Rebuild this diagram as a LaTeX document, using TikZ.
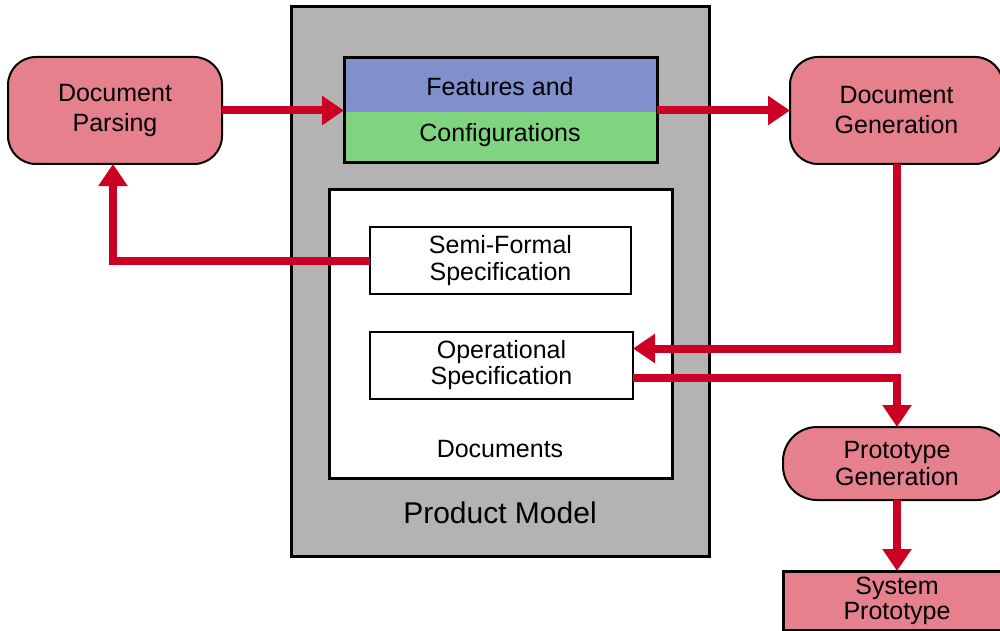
\documentclass[tikz,border=0pt]{standalone}
\usepackage{fontspec}
\setmainfont{Liberation Sans}
\usetikzlibrary{arrows.meta}
\definecolor{pinkbox}{RGB}{230,128,140}
\definecolor{featblue}{RGB}{128,144,204}
\definecolor{featgreen}{RGB}{128,212,128}
\definecolor{pmgray}{RGB}{179,179,179}
\definecolor{arrred}{RGB}{204,0,34}
\begin{document}
\begin{tikzpicture}[x=1pt,y=-1pt,
  every node/.style={inner sep=0pt, outer sep=0pt},
  txt/.style={font=\fontsize{25}{30}\selectfont, align=center},
  procbox/.style={draw=black, line width=2pt, fill=pinkbox, rectangle, anchor=north west, txt},
  specbox/.style={draw=black, line width=2.5pt, fill=white, rectangle, anchor=north west, txt},
  arr/.style={draw=arrred, line width=8pt, line join=miter, -{Triangle[length=22pt,width=28pt]}},
  link/.style={draw=arrred, line width=8pt, line join=miter}
]
\useasboundingbox (0,0) rectangle (1000,631);

% Product model
\node[draw=black, line width=3pt, fill=pmgray, anchor=north west, minimum width=418pt, minimum height=549pt] (pm) at (291,7) {};
\node[anchor=base, font=\fontsize{30}{36}\selectfont] (pmlabel) at (500,523) {Product Model};

% Features and configurations
\fill[featblue] (344,58) rectangle (657,112);
\fill[featgreen] (344,112) rectangle (657,163);
\node[draw=black, line width=3pt, anchor=north west, minimum width=313pt, minimum height=105pt] (feat) at (344,58) {};
\node[anchor=base, txt] (feattxtA) at (500,96) {Features and};
\node[anchor=base, txt] (feattxtB) at (500,142) {Configurations};

% Documents
\node[draw=black, line width=3pt, fill=white, anchor=north west, minimum width=343pt, minimum height=289pt] (docs) at (329,189) {};
\node[anchor=base, txt] (docslabel) at (500,457) {Documents};

\node[specbox, minimum width=261pt, minimum height=67pt, font=\fontsize{25}{27}\selectfont] (semi) at (370,227) {Semi-Formal\\Specification};
\node[specbox, minimum width=263pt, minimum height=67pt, font=\fontsize{25}{26}\selectfont] (op) at (370,332) {Operational\\Specification};

% Process boxes
\node[procbox, rounded corners=28pt, minimum width=214pt, minimum height=107pt] (dp) at (8,57) {Document\\Parsing};
\node[procbox, rounded corners=28pt, minimum width=213pt, minimum height=107pt] (dg) at (790,57) {Document\\Generation};
\node[procbox, rounded corners=34pt, minimum width=228pt, minimum height=73pt, font=\fontsize{25}{27}\selectfont] (pg) at (783,427) {Prototype\\Generation};
\node[procbox, line width=3pt, minimum width=228pt, minimum height=59pt, font=\fontsize{25}{25}\selectfont] (sp) at (783,571) {System\\Prototype};

% Connectors
\draw[arr] (dp.east) -- (feat.west);
\draw[arr] (feat.east) -- (dg.west);
\draw[arr] (semi.west) -| ([xshift=-2pt]dp.south);
\draw[arr] (dg.south) |- ([yshift=17pt]op.east);
\draw[arr] ([yshift=-12.5pt]op.east) -| (pg.north);
\draw[arr] (pg.south) -- (sp.north);
\end{tikzpicture}
\end{document}
